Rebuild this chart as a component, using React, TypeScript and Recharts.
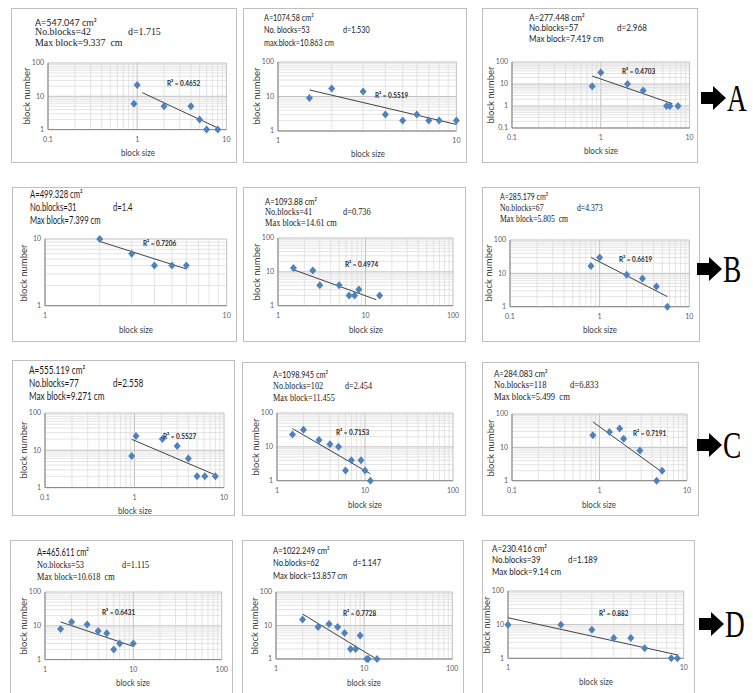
import React from 'react';
import { ScatterChart, Scatter, XAxis, YAxis, CartesianGrid, ReferenceLine } from 'recharts';

// ---------------- data ----------------
const a1Size = [0.92, 1, 2, 4, 5, 6, 8];
const a1Count = [6, 22, 5, 5, 2, 1, 1];
const a1TrendSize = [1.14, 8.3];
const a1TrendCount = [12.9, 1.07];

const a2Size = [1.5, 2, 3, 4, 5, 6, 7, 8, 10];
const a2Count = [9, 17, 14, 3, 2, 3, 2, 2, 2];
const a2TrendSize = [1.5, 10];
const a2TrendCount = [15.5, 1.55];

const a3Size = [0.8, 1, 2, 3, 5.5, 6, 7.4];
const a3Count = [8, 33, 10, 5, 1, 1, 1];
const a3TrendSize = [0.8, 6.4];
const a3TrendCount = [23, 1.27];

const b1Size = [2, 3, 4, 5, 6];
const b1Count = [10, 6, 4, 4, 4];
const b1TrendSize = [2, 6];
const b1TrendCount = [9.2, 3.55];

const b2Size = [1.5, 2.5, 3, 5, 6.5, 7.5, 8.4, 14.5];
const b2Count = [13, 11, 4, 4, 2, 2, 3, 2];
const b2TrendSize = [1.5, 13.3];
const b2TrendCount = [11.6, 1.5];

const b3Size = [0.8, 1, 2, 3, 4.3, 5.7];
const b3Count = [16.7, 30, 9, 7, 4, 1];
const b3TrendSize = [0.8, 5.7];
const b3TrendCount = [30, 2];

const c1Size = [0.93, 1.04, 2.05, 3, 4, 5, 6.1, 8];
const c1Count = [7, 24, 20, 13, 6, 2, 2, 2];
const c1TrendSize = [0.93, 8.3];
const c1TrendCount = [19.7, 2.1];

const c2Size = [1.5, 2, 3, 4, 5, 6, 7, 9, 10, 11.5];
const c2Count = [23, 32, 16, 12, 10, 2, 4, 4, 2, 1];
const c2TrendSize = [1.5, 11.5];
const c2TrendCount = [34.6, 1.6];

const c3Size = [0.84, 1.3, 1.7, 1.89, 2.9, 4.5, 5.2];
const c3Count = [23, 29, 37, 18, 8, 1, 2];
const c3TrendSize = [0.84, 5.2];
const c3TrendCount = [58, 1.8];

const d1Size = [1.5, 2, 3, 4, 5, 6, 7, 10];
const d1Count = [8, 13, 11, 7, 6, 2, 3, 3];
const d1TrendSize = [1.5, 9.8];
const d1TrendCount = [13, 2.5];

const d2Size = [2, 3, 4, 5, 6, 7, 8, 9, 10.7, 11.1, 14];
const d2Count = [15, 9, 11, 9, 6, 2, 2, 5, 1, 1, 1];
const d2TrendSize = [2, 13.2];
const d2TrendCount = [22, 1.07];

const d3Size = [1, 2, 3, 4, 5, 6, 8.5, 9.2];
const d3Count = [10, 10, 7, 4, 4, 2, 1, 1];
const d3TrendSize = [1, 9.3];
const d3TrendCount = [16, 1.25];

const areaLabels = [
  'A=547.047 cm²', 'A=1074.58 cm²', 'A=277.448 cm²',
  'A=499.328 cm²', 'A=1093.88 cm²', 'A=285.179 cm²',
  'A=555.119 cm²', 'A=1098.945 cm²', 'A=284.083 cm²',
  'A=465.611 cm²', 'A=1022.249 cm²', 'A=230.416 cm²',
];
const countLabels = [
  'No.blocks=42', 'No. blocks=53', 'No.blocks=57',
  'No.blocks=31', 'No.blocks=41', 'No.blocks=67',
  'No.blocks=77', 'No.blocks=102', 'No.blocks=118',
  'No.blocks=53', 'No.blocks=62', 'No.blocks=39',
];
const dLabels = [
  'd=1.715', 'd=1.530', 'd=2.968',
  'd=1.4', 'd=0.736', 'd=4.373',
  'd=2.558', 'd=2.454', 'd=6.833',
  'd=1.115', 'd=1.147', 'd=1.189',
];
const maxLabels = [
  'Max block=9.337  cm', 'max.block=10.863 cm', 'Max block=7.419 cm',
  'Max block=7.399 cm', 'Max block=14.61 cm', 'Max block=5.805  cm',
  'Max block=9.271 cm', 'Max block=11.455', 'Max block=5.499  cm',
  'Max block=10.618  cm', 'Max block=13.857 cm', 'Max block=9.14 cm',
];
const r2Labels = [
  'R² = 0.4652', 'R² = 0.5519', 'R² = 0.4703',
  'R² = 0.7206', 'R² = 0.4974', 'R² = 0.6619',
  'R² = 0.5527', 'R² = 0.7153', 'R² = 0.7191',
  'R² = 0.6431', 'R² = 0.7728', 'R² = 0.882',
];
const rowLetters = ['A', 'B', 'C', 'D'];
const xAxisTitle = 'block size';
const yAxisTitle = 'block number';

const sizeSeries = [a1Size, a2Size, a3Size, b1Size, b2Size, b3Size, c1Size, c2Size, c3Size, d1Size, d2Size, d3Size];
const countSeries = [a1Count, a2Count, a3Count, b1Count, b2Count, b3Count, c1Count, c2Count, c3Count, d1Count, d2Count, d3Count];
const trendSizeSeries = [a1TrendSize, a2TrendSize, a3TrendSize, b1TrendSize, b2TrendSize, b3TrendSize, c1TrendSize, c2TrendSize, c3TrendSize, d1TrendSize, d2TrendSize, d3TrendSize];
const trendCountSeries = [a1TrendCount, a2TrendCount, a3TrendCount, b1TrendCount, b2TrendCount, b3TrendCount, c1TrendCount, c2TrendCount, c3TrendCount, d1TrendCount, d2TrendCount, d3TrendCount];

// axis domains (decades)
const xDomains: [number, number][] = [
  [0.1, 10], [1, 10], [0.1, 10],
  [1, 10], [1, 100], [0.1, 10],
  [0.1, 10], [1, 100], [0.1, 10],
  [1, 100], [1, 100], [1, 10],
];
const yDomains: [number, number][] = [
  [1, 100], [1, 100], [0.1, 100],
  [1, 10], [1, 100], [1, 100],
  [1, 100], [1, 100], [1, 100],
  [1, 100], [1, 100], [1, 100],
];

// ---------------- layout (page pixels) ----------------
type Layout = {
  frame: [number, number, number, number];
  plot: [number, number, number, number];
  tx: number; ty: [number, number, number]; dx: number;
  fs: number; sx: number; serif: boolean; r2: [number, number];
};
const layouts: Layout[] = [
  { frame: [11, 8, 237, 163], plot: [48.3, 62.7, 226.7, 129.3], tx: 35, ty: [21.5, 32, 42.5], dx: 128, fs: 10, sx: 0.9, serif: true, r2: [167, 83] },
  { frame: [243, 8, 467, 163], plot: [278.3, 61.7, 456.7, 130.7], tx: 264, ty: [18, 29.5, 43], dx: 343, fs: 9.5, sx: 0.76, serif: false, r2: [375, 95] },
  { frame: [482, 8, 698, 163], plot: [511.7, 61.7, 689.3, 127.7], tx: 529, ty: [16.5, 27, 37.5], dx: 617, fs: 9, sx: 0.9, serif: false, r2: [621.7, 71] },
  { frame: [12, 187, 237, 342], plot: [45, 239.3, 226.7, 306], tx: 30, ty: [194, 207.3, 220], dx: 113, fs: 10.5, sx: 0.73, serif: false, r2: [142.7, 242.7] },
  { frame: [243, 187, 466, 342], plot: [278.3, 238.3, 453.3, 306], tx: 265, ty: [200.5, 211.5, 223], dx: 343, fs: 10, sx: 0.76, serif: true, r2: [345, 264.3] },
  { frame: [482, 187, 700, 342], plot: [510, 240, 689.3, 306.7], tx: 500, ty: [196, 207.5, 219.3], dx: 576.7, fs: 10, sx: 0.7, serif: true, r2: [619.3, 259.3] },
  { frame: [12, 360, 235, 516], plot: [45, 412.7, 224, 487.3], tx: 29.3, ty: [370, 383.3, 395.7], dx: 113, fs: 10.5, sx: 0.78, serif: false, r2: [163.3, 435.7] },
  { frame: [242, 362, 466, 516], plot: [277.3, 413.3, 453.3, 481], tx: 272.7, ty: [374, 386.3, 397.8], dx: 345, fs: 10, sx: 0.74, serif: true, r2: [335.7, 432.3] },
  { frame: [482, 362, 699, 516], plot: [511.7, 414.3, 686.7, 481], tx: 494, ty: [373, 385, 396.5], dx: 570, fs: 10, sx: 0.78, serif: true, r2: [633.3, 433.3] },
  { frame: [10, 540, 233, 700], plot: [45, 591.7, 221.7, 659.3], tx: 37.3, ty: [551.7, 565, 576.7], dx: 121.7, fs: 10.5, sx: 0.72, serif: true, r2: [101.7, 612.3] },
  { frame: [242, 540, 464, 700], plot: [276, 592.3, 452.3, 659.3], tx: 272.7, ty: [550, 562.3, 575], dx: 353.3, fs: 10, sx: 0.76, serif: false, r2: [343.3, 613.3] },
  { frame: [482, 540, 695, 700], plot: [508.3, 591, 684, 658.3], tx: 491.7, ty: [547.7, 559.3, 570.7], dx: 568.3, fs: 10, sx: 0.8, serif: false, r2: [599.3, 613.3] },
];
const arrowCenters: [number, number][] = [[701, 98], [697, 269], [697, 445], [699, 624]];

const SANS = 'Lato, "Liberation Sans", sans-serif';
const SERIF = '"Liberation Serif", "DejaVu Serif", serif';

function decadeTicks(lo: number, hi: number): number[] {
  const out: number[] = [];
  for (let v = lo; v <= hi * 1.0001; v *= 10) out.push(Number(v.toPrecision(3)));
  return out;
}
function minorTicks(lo: number, hi: number): number[] {
  const out: number[] = [];
  for (let d = lo; d < hi * 0.999; d *= 10) {
    for (let k = 2; k <= 9; k++) out.push(Number((d * k).toPrecision(3)));
  }
  return out;
}

const Diamond = (props: any) => {
  const { cx, cy } = props;
  if (cx == null || cy == null) return <g />;
  return <path d={`M${cx},${cy - 4} L${cx + 3.5},${cy} L${cx},${cy + 4} L${cx - 3.5},${cy} Z`} fill="#4f81bd" />;
};
const NoDot = () => <g />;

function Panel({ i }: { i: number }) {
  const L = layouts[i];
  const [pl, pt, pr, pb] = L.plot;
  const mL = 26, mR = 8, mT = 6, mB = 16;
  const W = pr - pl + mL + mR;
  const H = pb - pt + mT + mB;
  const xd = xDomains[i];
  const yd = yDomains[i];
  const pts = sizeSeries[i].map((x, k) => ({ x, y: countSeries[i][k] }));
  const trend = trendSizeSeries[i].map((x, k) => ({ x, y: trendCountSeries[i][k] }));
  const [fl, ft, fr, fb] = L.frame;
  const lineFont = (serifLine: boolean) => (serifLine ? SERIF : SANS);
  const sxFor = (serifLine: boolean) => (serifLine ? L.sx * 1.1 : L.sx);
  const txt = (s: string, x: number, y: number, serifLine: boolean) => (
    <div style={{
      position: 'absolute', left: x, top: y, whiteSpace: 'pre', lineHeight: 1,
      fontFamily: lineFont(serifLine), fontSize: L.fs, color: '#1a1a1a',
      transform: `translateY(-50%) scaleX(${sxFor(serifLine)})`, transformOrigin: 'left center',
    }}>{s}</div>
  );
  return (
    <>
      <div style={{ position: 'absolute', left: fl, top: ft, width: fr - fl, height: fb - ft, border: '1px solid #bfbfbf', boxSizing: 'border-box', background: '#fff' }} />
      {txt(areaLabels[i], L.tx, L.ty[0], false)}
      {txt(countLabels[i], L.tx, L.ty[1], L.serif)}
      {txt(dLabels[i], L.dx, L.ty[1], L.serif)}
      {txt(maxLabels[i], L.tx, L.ty[2], L.serif)}
      <div style={{ position: 'absolute', left: pl - mL, top: pt - mT }}>
        <ScatterChart width={W} height={H} margin={{ top: mT, right: mR, left: 0, bottom: 0 }}>
          <CartesianGrid stroke="#b0b0b0" strokeWidth={0.8} />
          {minorTicks(xd[0], xd[1]).map((v) => (
            <ReferenceLine key={'mx' + v} x={v} stroke="#d9d9d9" strokeWidth={0.7} />
          ))}
          {minorTicks(yd[0], yd[1]).map((v) => (
            <ReferenceLine key={'my' + v} y={v} stroke="#d9d9d9" strokeWidth={0.7} />
          ))}
          <XAxis type="number" dataKey="x" scale="log" domain={xd} ticks={decadeTicks(xd[0], xd[1])}
            interval={0} height={mB} tickLine={false} tickSize={4} tickMargin={3}
            axisLine={{ stroke: '#868686' }} tick={{ fontSize: 7, fill: '#595959', fontFamily: SANS }} />
          <YAxis type="number" dataKey="y" scale="log" domain={yd} ticks={decadeTicks(yd[0], yd[1])}
            interval={0} width={mL} tickLine={false} tickSize={2} tickMargin={2}
            axisLine={{ stroke: '#868686' }} tick={{ fontSize: 7, fill: '#595959', fontFamily: SANS }} />
          <Scatter data={trend} line={{ stroke: '#404040', strokeWidth: 1 }} shape={NoDot} isAnimationActive={false} />
          <Scatter data={pts} shape={Diamond} isAnimationActive={false} />
        </ScatterChart>
      </div>
      <div style={{
        position: 'absolute', left: L.r2[0], top: L.r2[1], whiteSpace: 'pre', lineHeight: 1,
        fontFamily: SANS, fontWeight: 700, fontSize: 8, color: '#262626',
        transform: 'translateY(-50%) scaleX(0.8)', transformOrigin: 'left center',
      }}>{r2Labels[i]}</div>
      <div style={{
        position: 'absolute', left: pl - 21, top: (pt + pb) / 2, whiteSpace: 'nowrap', lineHeight: 1,
        fontFamily: SANS, fontSize: 9.5, color: '#404040',
        transform: 'translate(-50%, -50%) rotate(-90deg)',
      }}>{yAxisTitle}</div>
      <div style={{
        position: 'absolute', left: (pl + pr) / 2, top: pb + 22.5, whiteSpace: 'nowrap', lineHeight: 1,
        fontFamily: SANS, fontSize: 10, color: '#404040',
        transform: 'translate(-50%, -50%) scaleX(0.8)',
      }}>{xAxisTitle}</div>
    </>
  );
}

function RowArrow({ r }: { r: number }) {
  const [x, cy] = arrowCenters[r];
  return (
    <>
      <svg style={{ position: 'absolute', left: x, top: cy - 12 }} width={26} height={24}>
        <polygon points="0,6 12,6 12,0 25,12 12,24 12,18 0,18" fill="#000" />
      </svg>
      <div style={{
        position: 'absolute', left: x + 26, top: cy, lineHeight: 1, fontFamily: SERIF, fontSize: 38, color: '#000',
        transform: 'translateY(-50%) scaleX(0.72)', transformOrigin: 'left center',
      }}>{rowLetters[r]}</div>
    </>
  );
}

export default function App() {
  return (
    <div style={{ position: 'absolute', left: 0, top: 0, width: 753, height: 693, overflow: 'hidden', background: '#fff' }}>
      {layouts.map((_, i) => <Panel key={i} i={i} />)}
      {rowLetters.map((_, r) => <RowArrow key={r} r={r} />)}
    </div>
  );
}
